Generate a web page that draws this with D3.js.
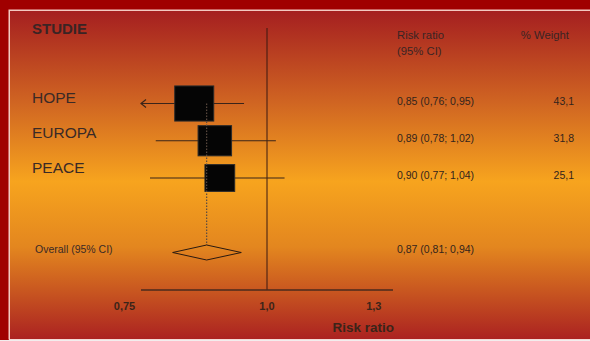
<!DOCTYPE html>
<html>
<head>
<meta charset="utf-8">
<script src="https://cdn.jsdelivr.net/npm/d3@7"></script>
<style>
  html, body { margin: 0; padding: 0; background: #f4f0f0; }
  svg { display: block; font-family: "Liberation Sans", Arial, sans-serif; }
</style>
</head>
<body>
<div id="chart"></div>
<script>
// study rows
const studies = ["HOPE", "EUROPA", "PEACE"];
const rr = [0.85, 0.89, 0.90];
const lower = [0.76, 0.78, 0.77];
const upper = [0.95, 1.02, 1.04];
const weights = [43.1, 31.8, 25.1];
const rrLabels = ["0,85 (0,76; 0,95)", "0,89 (0,78; 1,02)", "0,90 (0,77; 1,04)"];
const weightLabels = ["43,1", "31,8", "25,1"];
// pooled estimate
const overall = { label: "Overall (95% CI)", rr: 0.87, lower: 0.81, upper: 0.94, text: "0,87 (0,81; 0,94)" };
const ticks = [0.75, 1.0, 1.3];
const tickLabels = ["0,75", "1,0", "1,3"];
const clipAt = 0.765; // CIs below this get an arrow at the axis start

const W = 590, H = 341;
const svg = d3.select("#chart").append("svg").attr("width", W).attr("height", H);

// frame + gradient panel
const defs = svg.append("defs");
const grad = defs.append("linearGradient").attr("id", "bg").attr("x1", 0).attr("y1", 0).attr("x2", 0).attr("y2", 1);
[[0, "#a51f20"], [0.28, "#d06522"], [0.52, "#f7a41e"], [0.72, "#e3861f"], [1, "#ab2221"]]
  .forEach(s => grad.append("stop").attr("offset", s[0]).attr("stop-color", s[1]));

svg.append("rect").attr("width", W).attr("height", H).attr("fill", "#f2eded");
svg.append("rect").attr("width", W).attr("height", 10).attr("fill", "#a00000");
svg.append("rect").attr("width", 9).attr("height", 340).attr("fill", "#a00000");
svg.append("rect").attr("x", 8.5).attr("y", 9.5).attr("width", W).attr("height", 330)
  .attr("fill", "#f3c8c0");
svg.append("rect").attr("x", 10).attr("y", 11).attr("width", W).attr("height", 328)
  .attr("fill", "url(#bg)");

const x = d3.scaleLog().domain([1 / 1.325, 1.325]).range([141, 393]);
const rowY = d3.scalePoint().domain(studies).range([103.5, 178]);
const size = d3.scaleSqrt().domain([0, 43.1]).range([0, 39]);
const ink = "#3b2419";

// reference line at 1
svg.append("line").attr("x1", x(1)).attr("x2", x(1)).attr("y1", 28).attr("y2", 290)
  .attr("stroke", "#3a1810").attr("stroke-width", 1);

// axis
svg.append("line").attr("x1", x.range()[0]).attr("x2", x.range()[1]).attr("y1", 290).attr("y2", 290)
  .attr("stroke", "#4a2a1c").attr("stroke-width", 1.5);
svg.selectAll(".tick").data(ticks).enter().append("text")
  .attr("x", d => d === 1 ? x(d) : x(d) - 3)
  .attr("y", 310)
  .attr("text-anchor", d => d === 1 ? "middle" : "end")
  .attr("font-size", 11).attr("font-weight", "bold").attr("fill", ink)
  .text((d, i) => tickLabels[i]);
svg.append("text").attr("x", 394).attr("y", 332).attr("text-anchor", "end")
  .attr("font-size", 13.5).attr("font-weight", "bold").attr("fill", ink).text("Risk ratio");

// CI lines
const rows = studies.map((s, i) => ({ s, rr: rr[i], lo: lower[i], hi: upper[i], w: weights[i] }));
const axisStart = x.range()[0];
svg.selectAll(".ci").data(rows).enter().append("line")
  .attr("x1", d => d.lo < clipAt ? axisStart : x(d.lo)).attr("x2", d => x(d.hi))
  .attr("y1", d => rowY(d.s)).attr("y2", d => rowY(d.s))
  .attr("stroke", ink).attr("stroke-width", 1.1);
// arrow where CI runs off the axis
svg.selectAll(".arrow").data(rows.filter(d => d.lo < clipAt)).enter().append("path")
  .attr("d", d => { const ay = rowY(d.s); return `M${axisStart + 5},${ay - 4}L${axisStart},${ay}L${axisStart + 5},${ay + 4}`; })
  .attr("fill", "none").attr("stroke", ink).attr("stroke-width", 1.2);

// boxes
svg.selectAll(".box").data(rows).enter().append("rect")
  .attr("x", d => x(d.rr) - size(d.w) / 2)
  .attr("y", d => rowY(d.s) - size(d.w) * 0.45)
  .attr("width", d => size(d.w))
  .attr("height", d => size(d.w) * 0.9)
  .attr("fill", "#050505").attr("stroke", "#2a2a2a").attr("stroke-width", 1);

// dotted line at pooled estimate
const ox = x(overall.rr) + 2;
svg.append("line").attr("x1", ox).attr("x2", ox).attr("y1", rowY(studies[0])).attr("y2", 245)
  .attr("stroke", "#5a4a40").attr("stroke-width", 1.2).attr("stroke-dasharray", "1.5,1.5");

// diamond
const dy = 252.5;
svg.append("path")
  .attr("d", `M${x(overall.lower)},${dy}L${ox},${dy - 7.5}L${x(overall.upper) + 2},${dy}L${ox},${dy + 7.5}Z`)
  .attr("fill", "none").attr("stroke", "#2a1a10").attr("stroke-width", 1);

// left labels
svg.append("text").attr("x", 32).attr("y", 34).attr("font-size", 15).attr("font-weight", "bold")
  .attr("fill", "#3a2424").text("STUDIE");
svg.selectAll(".name").data(studies).enter().append("text")
  .attr("x", 32).attr("y", (d, i) => rowY(d) - 0.5 - i * 2.5)
  .attr("font-size", 15.5).attr("fill", "#3a2a26").text(d => d);
svg.append("text").attr("x", 35).attr("y", 253).attr("font-size", 10.5).attr("fill", "#3a2a26")
  .text(overall.label);

// right columns
const hdr = svg.append("g").attr("font-size", 11.3).attr("fill", "#3a2424");
hdr.append("text").attr("x", 397).attr("y", 39).text("Risk ratio");
hdr.append("text").attr("x", 397).attr("y", 55).text("(95% CI)");
hdr.append("text").attr("x", 569).attr("y", 39).attr("text-anchor", "end").text("% Weight");

svg.selectAll(".rrl").data(rrLabels).enter().append("text")
  .attr("x", 397).attr("y", (d, i) => rowY(studies[i]) + 1)
  .attr("font-size", 10.5).attr("fill", "#33241c").text(d => d);
svg.selectAll(".wl").data(weightLabels).enter().append("text")
  .attr("x", 574).attr("y", (d, i) => rowY(studies[i]) + 1).attr("text-anchor", "end")
  .attr("font-size", 10.5).attr("fill", "#33241c").text(d => d);
svg.append("text").attr("x", 397).attr("y", 253).attr("font-size", 10.5).attr("fill", "#33241c")
  .text(overall.text);
</script>
</body>
</html>
